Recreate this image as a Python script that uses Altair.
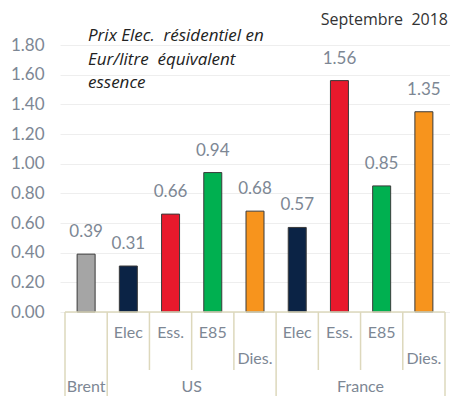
import altair as alt
import pandas as pd

# ---- data ----
labels = ["Brent", "Elec", "Ess.", "E85", "Dies.", "Elec", "Ess.", "E85", "Dies."]
groups = ["Brent", "US", "US", "US", "US", "France", "France", "France", "France"]
types = ["Brent", "Elec", "Ess.", "E85", "Dies.", "Elec", "Ess.", "E85", "Dies."]
values = [0.39, 0.31, 0.66, 0.94, 0.68, 0.57, 1.56, 0.85, 1.35]
y_ticks = [0.0, 0.2, 0.4, 0.6, 0.8, 1.0, 1.2, 1.4, 1.6, 1.8]
type_order = ["Brent", "Elec", "Ess.", "E85", "Dies."]
type_colors = ["#A5A5A5", "#0B2345", "#E8192C", "#00B050", "#F7941D"]
group_names = ["US", "France"]
group_spans = [(1, 5), (5, 9)]
long_dividers = [0, 1, 5, 9]
short_dividers = [2, 3, 4, 6, 7, 8]
title_text = "Septembre\u00a0\u00a02018"
note_lines = ["Prix Elec.\u00a0 résidentiel en", "Eur/litre\u00a0 équivalent", "essence"]

bars_df = pd.DataFrame({
    "pos": [i + 0.5 for i in range(len(values))],
    "label": labels,
    "group": groups,
    "type": types,
    "value": values,
    "vlabel": [f"{v:.2f}" for v in values],
})
div_df = pd.DataFrame({"x": long_dividers + short_dividers,
                       "kind": ["long"] * len(long_dividers) + ["short"] * len(short_dividers)})
grp_df = pd.DataFrame({"group": group_names,
                       "center": [(a + b) / 2 for a, b in group_spans]})

FONT = "Lato"
LABEL_COLOR = "#7D8794"
LINE_COLOR = "#DDD8BC"
H = 267

xscale = alt.Scale(domain=[0, 9], nice=False, zero=False)
yscale = alt.Scale(domain=[0, 1.8], nice=False)
yaxis = alt.Axis(values=y_ticks, format=".2f", grid=True, gridColor="#EEEEEE",
                 gridWidth=1, domain=False, ticks=False, labelPadding=16,
                 labelFontSize=17, labelFont=FONT, labelColor=LABEL_COLOR, title=None)

base = alt.Chart(bars_df)

bars = base.mark_bar(size=18, stroke="#3A3A3A", strokeWidth=1).encode(
    x=alt.X("pos:Q", scale=xscale, axis=None),
    y=alt.Y("value:Q", scale=yscale, axis=yaxis),
    color=alt.Color("type:N", scale=alt.Scale(domain=type_order, range=type_colors), legend=None),
)

vlabels = base.mark_text(dy=-22, fontSize=17, font=FONT, color=LABEL_COLOR,
                         baseline="middle").encode(
    x=alt.X("pos:Q", scale=xscale, axis=None),
    y=alt.Y("value:Q", scale=yscale, axis=yaxis),
    text="vlabel:N",
)

baseline = alt.Chart(pd.DataFrame({"a": [0], "b": [9], "value": [0.0]})).mark_rule(
    color=LINE_COLOR, strokeWidth=1.5).encode(
    x=alt.X("a:Q", scale=xscale, axis=None), x2="b:Q",
    y=alt.Y("value:Q", scale=yscale, axis=yaxis))

div_long = alt.Chart(div_df).transform_filter("datum.kind == 'long'").mark_rule(
    color=LINE_COLOR, strokeWidth=1.5).encode(
    x=alt.X("x:Q", scale=xscale, axis=None), y=alt.value(H), y2=alt.value(H + 100))
div_short = alt.Chart(div_df).transform_filter("datum.kind == 'short'").mark_rule(
    color=LINE_COLOR, strokeWidth=1.5).encode(
    x=alt.X("x:Q", scale=xscale, axis=None), y=alt.value(H), y2=alt.value(H + 58))

cat_top = base.transform_filter("datum.type != 'Dies.' && datum.type != 'Brent'").mark_text(
    fontSize=16, font=FONT, color=LABEL_COLOR, baseline="middle").encode(
    x=alt.X("pos:Q", scale=xscale, axis=None), y=alt.value(H + 21), text="label:N")
cat_dies = base.transform_filter("datum.type == 'Dies.'").mark_text(
    fontSize=16, font=FONT, color=LABEL_COLOR, baseline="middle").encode(
    x=alt.X("pos:Q", scale=xscale, axis=None), y=alt.value(H + 47), text="label:N")
cat_brent = base.transform_filter("datum.type == 'Brent'").mark_text(
    fontSize=16, font=FONT, color=LABEL_COLOR, baseline="middle").encode(
    x=alt.X("pos:Q", scale=xscale, axis=None), y=alt.value(H + 75), text="label:N")
grp_text = alt.Chart(grp_df).mark_text(
    fontSize=16, font=FONT, color=LABEL_COLOR, baseline="middle").encode(
    x=alt.X("center:Q", scale=xscale, axis=None), y=alt.value(H + 75), text="group:N")

title = alt.Chart(pd.DataFrame({"t": [title_text]})).mark_text(
    fontSize=16, font="Open Sans", color="#333333", align="right", baseline="middle").encode(
    x=alt.value(388), y=alt.value(-25), text="t:N")

note = alt.Chart(pd.DataFrame({"t": ["\n".join(note_lines)]})).mark_text(
    fontSize=17, font="Open Sans", fontStyle="italic", color="#222222", align="left",
    baseline="middle", lineBreak="\n", lineHeight=23.5).encode(
    x=alt.value(28), y=alt.value(-9), text="t:N")

chart = alt.layer(
    bars, baseline, div_long, div_short, vlabels, cat_top, cat_dies, cat_brent, grp_text, title, note
).properties(
    width=390, height=H,
    autosize=alt.AutoSizeParams(type="none"),
    padding={"left": 52, "top": 37, "right": 0, "bottom": 84},
).configure_view(stroke=None)

chart.save("out.html", embed_options={"renderer": "svg", "actions": False})
